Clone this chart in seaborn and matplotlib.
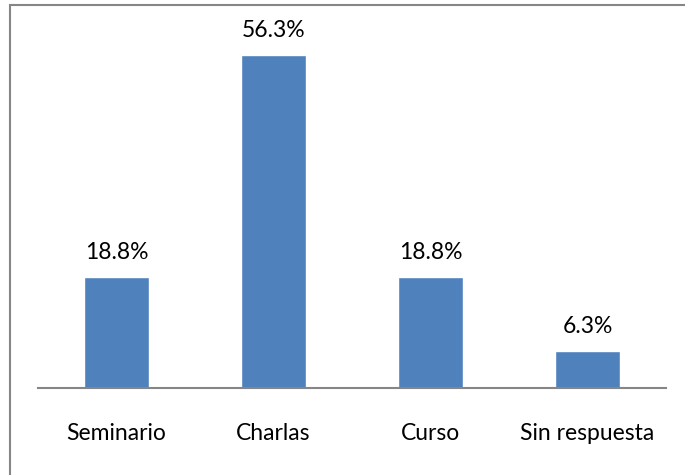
import matplotlib
matplotlib.use("Agg")
import matplotlib.pyplot as plt
import seaborn as sns
import pandas as pd
from matplotlib.patches import Rectangle

categories = ["Seminario", "Charlas", "Curso", "Sin respuesta"]
values = [18.8, 56.3, 18.8, 6.3]
labels = ["18.8%", "56.3%", "18.8%", "6.3%"]

sns.set_style("white")
plt.rcParams["font.family"] = ["Lato", "DejaVu Sans"]

df = pd.DataFrame({"cat": categories, "val": values})

fig = plt.figure(figsize=(6.85, 4.75), dpi=100)
ax = fig.add_axes([38 / 685, 1 - 388 / 475, 628 / 685, 355 / 475])

sns.barplot(data=df, x="cat", y="val", color="#4F81BD", saturation=1,
            width=0.41, ax=ax)

for i, (v, lab) in enumerate(zip(values, labels)):
    ax.annotate(lab, (i, v), xytext=(0, 10), textcoords="offset points",
                ha="center", va="bottom", fontsize=16.5, color="black")

ax.set_ylim(0, 60)
ax.set_xlim(-0.5, 3.5)
ax.set_yticks([])
ax.set_xlabel("")
ax.set_ylabel("")
for s in ["top", "right", "left"]:
    ax.spines[s].set_visible(False)
ax.spines["bottom"].set_color("#868686")
ax.spines["bottom"].set_linewidth(1.5)
ax.tick_params(axis="x", length=0, pad=25, labelsize=16.5, labelcolor="black")

# chart area border, runs off the right and bottom edges
fig.patches.append(Rectangle((10 / 685, -0.05), 1.0, 1 - 4.5 / 475 + 0.05,
                             transform=fig.transFigure, fill=False,
                             edgecolor="#868686", linewidth=1.5))

fig.savefig("out.png", dpi=100)
